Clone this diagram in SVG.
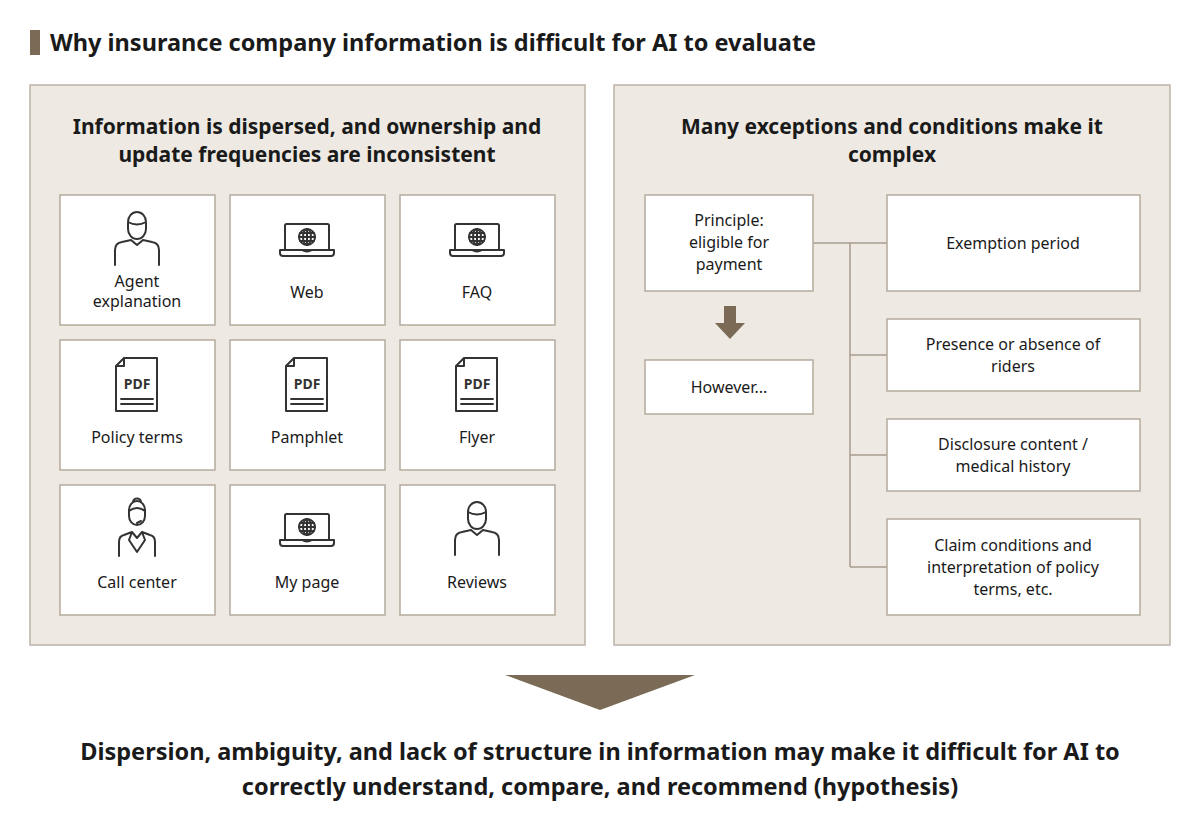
<svg xmlns="http://www.w3.org/2000/svg" width="1200" height="829" viewBox="0 0 1200 829">
<style>
text{font-family:"Noto Sans","Open Sans",sans-serif;fill:#1a1a1a}
.h{font-size:21px;font-weight:bold;text-anchor:middle}
.t{font-size:16px;text-anchor:middle}
.panel{fill:#eeeae3;stroke:#bdb3a6;stroke-width:1.5}
.box{fill:#fff;stroke:#b5ab9d;stroke-width:1.5}
.ic{fill:none;stroke:#333;stroke-width:2;stroke-linejoin:round;stroke-linecap:round}
.ln{fill:none;stroke:#a89d8e;stroke-width:1.5}
</style>
<defs>
<g id="person" class="ic">
<path d="M-9,-18 a9,10 0 1 1 18,0 v7 a9,10 0 0 1 -18,0 z M-9,-18 q9,5 18,0"/>
<path d="M-22,25 v-15 q0,-7 7,-8 l9,-2 l6,5 l6,-5 l9,2 q7,1 7,8 v15"/>
</g>
<g id="laptop" class="ic">
<rect x="-22" y="-16" width="44" height="26" rx="1.5"/>
<path d="M-27,10 h54 v3 q0,3 -3,3 h-48 q-3,0 -3,-3 z M-5,10 q5,3 10,0"/>
<circle cx="0" cy="-3" r="8"/><path d="M-8,-3 h16 M0,-11 v16 M-7,-7 h14 M-7,1 h14"/><ellipse cx="0" cy="-3" rx="4" ry="8"/>
</g>
<g id="pdf">
<path class="ic" d="M-13,-27 h33 v53 h-41 v-45 z M-21,-19 l8,-8 v8 z"/>
<text x="0" y="4" style="font-size:14px;font-weight:bold;text-anchor:middle;fill:#333">PDF</text>
<path class="ic" style="stroke-width:1.8" d="M-16,14 h32 M-16,19 h32"/>
</g>
</defs>
<rect x="30" y="30" width="10" height="25" fill="#7a6a56"/>
<text x="50" y="51" style="font-size:23.5px;font-weight:bold">Why insurance company information is difficult for AI to evaluate</text>
<g id="left-panel">
<rect class="panel" x="30" y="85" width="555" height="560"/>
<text class="h" x="307" y="134">Information is dispersed, and ownership and</text>
<text class="h" x="307" y="162">update frequencies are inconsistent</text>
</g>
<g id="agent"><rect class="box" x="60" y="195" width="155" height="130"/><use href="#person" x="137" y="240"/><text class="t" x="137" y="287">Agent</text><text class="t" x="137" y="307">explanation</text></g>
<g id="web"><rect class="box" x="230" y="195" width="155" height="130"/><use href="#laptop" x="307" y="240"/><text class="t" x="307" y="298">Web</text></g>
<g id="faq"><rect class="box" x="400" y="195" width="155" height="130"/><use href="#laptop" x="477" y="240"/><text class="t" x="477" y="298">FAQ</text></g>
<g id="policy"><rect class="box" x="60" y="340" width="155" height="130"/><use href="#pdf" x="137" y="385"/><text class="t" x="137" y="443">Policy terms</text></g>
<g id="pamphlet"><rect class="box" x="230" y="340" width="155" height="130"/><use href="#pdf" x="307" y="385"/><text class="t" x="307" y="443">Pamphlet</text></g>
<g id="flyer"><rect class="box" x="400" y="340" width="155" height="130"/><use href="#pdf" x="477" y="385"/><text class="t" x="477" y="443">Flyer</text></g>
<g id="callcenter"><rect class="box" x="60" y="485" width="155" height="130"/>
<g class="ic"><path d="M129,510 a8,9 0 1 1 16,0 v6 a8,9 0 0 1 -16,0 z M129,511 q8,-6 16,0 M133,502 a4,3.5 0 1 1 8,0"/><path d="M141,521 l-4,2"/><path d="M119,556 v-14 q0,-6 5,-7 l8,-3 l5,6 l5,-6 l8,3 q5,1 5,7 v14 M132,532 l-3,8 l8,12 l8,-12 l-3,-8"/></g>
<text class="t" x="137" y="588">Call center</text></g>
<g id="mypage"><rect class="box" x="230" y="485" width="155" height="130"/><use href="#laptop" x="307" y="530"/><text class="t" x="307" y="588">My page</text></g>
<g id="reviews"><rect class="box" x="400" y="485" width="155" height="130"/><use href="#person" x="477" y="530"/><text class="t" x="477" y="588">Reviews</text></g>
<g id="right-panel">
<rect class="panel" x="614" y="85" width="556" height="560"/>
<text class="h" x="892" y="134">Many exceptions and conditions make it</text>
<text class="h" x="892" y="162">complex</text>
</g>
<g id="connectors">
<path class="ln" d="M813,243 H887 M850,243 V567 M850,355 H887 M850,455 H887 M850,567 H887"/>
<path d="M724,306 h12 v17 h9 l-15,16 l-15,-16 h9 z" fill="#7a6a56"/>
<path d="M505,675 H695 L600,710 z" fill="#7a6a56"/>
</g>
<g id="principle"><rect class="box" x="645" y="195" width="168" height="96"/><text class="t" x="729" y="226">Principle:</text><text class="t" x="729" y="248">eligible for</text><text class="t" x="729" y="270">payment</text></g>
<g id="however"><rect class="box" x="645" y="360" width="168" height="54"/><text class="t" x="729" y="393">However...</text></g>
<g id="exemption"><rect class="box" x="887" y="195" width="253" height="96"/><text class="t" x="1013" y="249">Exemption period</text></g>
<g id="riders"><rect class="box" x="887" y="319" width="253" height="72"/><text class="t" x="1013" y="350">Presence or absence of</text><text class="t" x="1013" y="372">riders</text></g>
<g id="disclosure"><rect class="box" x="887" y="419" width="253" height="72"/><text class="t" x="1013" y="450">Disclosure content /</text><text class="t" x="1013" y="472">medical history</text></g>
<g id="claim"><rect class="box" x="887" y="519" width="253" height="96"/><text class="t" x="1013" y="551">Claim conditions and</text><text class="t" x="1013" y="573">interpretation of policy</text><text class="t" x="1013" y="595">terms, etc.</text></g>
<text class="h" x="600" y="760" style="font-size:23.5px">Dispersion, ambiguity, and lack of structure in information may make it difficult for AI to</text>
<text class="h" x="600" y="795" style="font-size:23.5px">correctly understand, compare, and recommend (hypothesis)</text>
</svg>
